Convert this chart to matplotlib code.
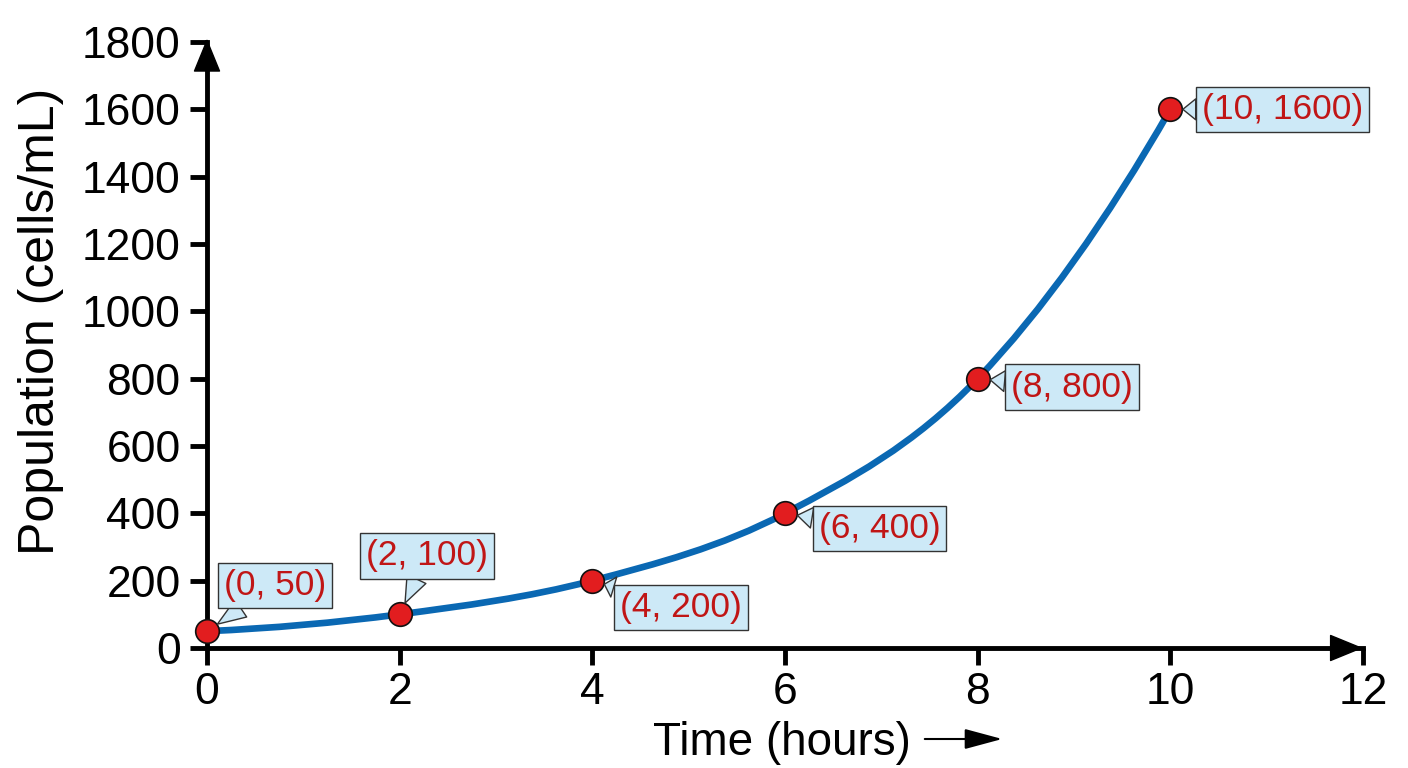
import matplotlib
matplotlib.use('Agg')
import matplotlib.pyplot as plt
from matplotlib.path import Path
from matplotlib.patches import PathPatch, FancyArrowPatch

plt.rcParams['font.family'] = ['Liberation Sans', 'DejaVu Sans']

hours = [0, 2, 4, 6, 8, 10]
population = [50, 100, 200, 400, 800, 1600]
x_ticks = [0, 2, 4, 6, 8, 10, 12]
y_ticks = [0, 200, 400, 600, 800, 1000, 1200, 1400, 1600, 1800]

# callout box offsets (points) from each marker
label_offsets = [(49, 33), (20, 42), (64, -19), (68, -11), (68, -6), (81, 0)]

curve_color = '#0a68b3'
dot_color = '#e21d1f'
text_red = '#c01616'
box_color = '#cde9f7'


def smooth_path(xs, ys):
    # bezier through the points (Catmull-Rom tangents)
    n = len(xs)
    m = [0.0] * n
    for i in range(1, n - 1):
        m[i] = (ys[i + 1] - ys[i - 1]) / (xs[i + 1] - xs[i - 1])
    m[0] = 2 * (ys[1] - ys[0]) / (xs[1] - xs[0]) - m[1]
    m[-1] = 2 * (ys[-1] - ys[-2]) / (xs[-1] - xs[-2]) - m[-2]
    verts = [(xs[0], ys[0])]
    codes = [Path.MOVETO]
    for i in range(n - 1):
        h = xs[i + 1] - xs[i]
        verts += [(xs[i] + h / 3, ys[i] + m[i] * h / 3),
                  (xs[i + 1] - h / 3, ys[i + 1] - m[i + 1] * h / 3),
                  (xs[i + 1], ys[i + 1])]
        codes += [Path.CURVE4] * 3
    return Path(verts, codes)


fig = plt.figure(figsize=(14.08, 7.68), dpi=100)
ax = fig.add_axes([207 / 1408, 1 - 648 / 768, (1363 - 207) / 1408, (648 - 42) / 768])

ax.set_xlim(0, 12)
ax.set_ylim(0, 1800)
ax.set_xticks(x_ticks)
ax.set_yticks(y_ticks)
ax.tick_params(labelsize=32, width=3.5, length=12, color='black')
ax.tick_params(axis='x', pad=5)
ax.tick_params(axis='y', pad=7)

for s in ['top', 'right']:
    ax.spines[s].set_visible(False)
for s in ['left', 'bottom']:
    ax.spines[s].set_linewidth(3.5)

# arrow heads on the axes
head = '-|>,head_length=1.1,head_width=0.45'
ax.annotate('', xy=(12, 0), xytext=(11.6, 0), annotation_clip=False,
            arrowprops=dict(arrowstyle=head, mutation_scale=20, color='black', lw=1,
                            shrinkA=0, shrinkB=0))
ax.annotate('', xy=(0, 1810), xytext=(0, 1700), annotation_clip=False,
            arrowprops=dict(arrowstyle=head, mutation_scale=20, color='black', lw=1,
                            shrinkA=0, shrinkB=0))

ax.add_patch(PathPatch(smooth_path(hours, population), fill=False, ec=curve_color, lw=4.8,
                       capstyle='round', zorder=3))
ax.plot(hours, population, 'o', ms=17, mfc=dot_color, mec='#111111', mew=1.2, zorder=4, clip_on=False)

for h, p, off in zip(hours, population, label_offsets):
    ax.annotate(f'({h}, {p})', xy=(h, p), xytext=off, textcoords='offset points',
                ha='center', va='center', fontsize=25.5, color=text_red, zorder=5,
                annotation_clip=False,
                bbox=dict(boxstyle='square,pad=0.17', fc=box_color, ec='#333333', lw=1),
                arrowprops=dict(arrowstyle='wedge,tail_width=0.75', mutation_scale=20,
                                fc=box_color, ec='#333333', lw=1, shrinkA=0, shrinkB=9))

ax.set_ylabel('Population (cells/mL)', fontsize=36)
ax.yaxis.set_label_coords(-0.124, 0.539)
ax.set_xlabel('Time (hours)', fontsize=33)
ax.xaxis.set_label_coords(0.497, -0.121)

fig.patches.append(FancyArrowPatch(
    (922 / 1408, 1 - 739 / 768), (1005 / 1408, 1 - 739 / 768), transform=fig.transFigure,
    arrowstyle='-|>,head_length=1.3,head_width=0.35', mutation_scale=18, color='black', lw=1.5))

fig.savefig('out.png', dpi=100)
